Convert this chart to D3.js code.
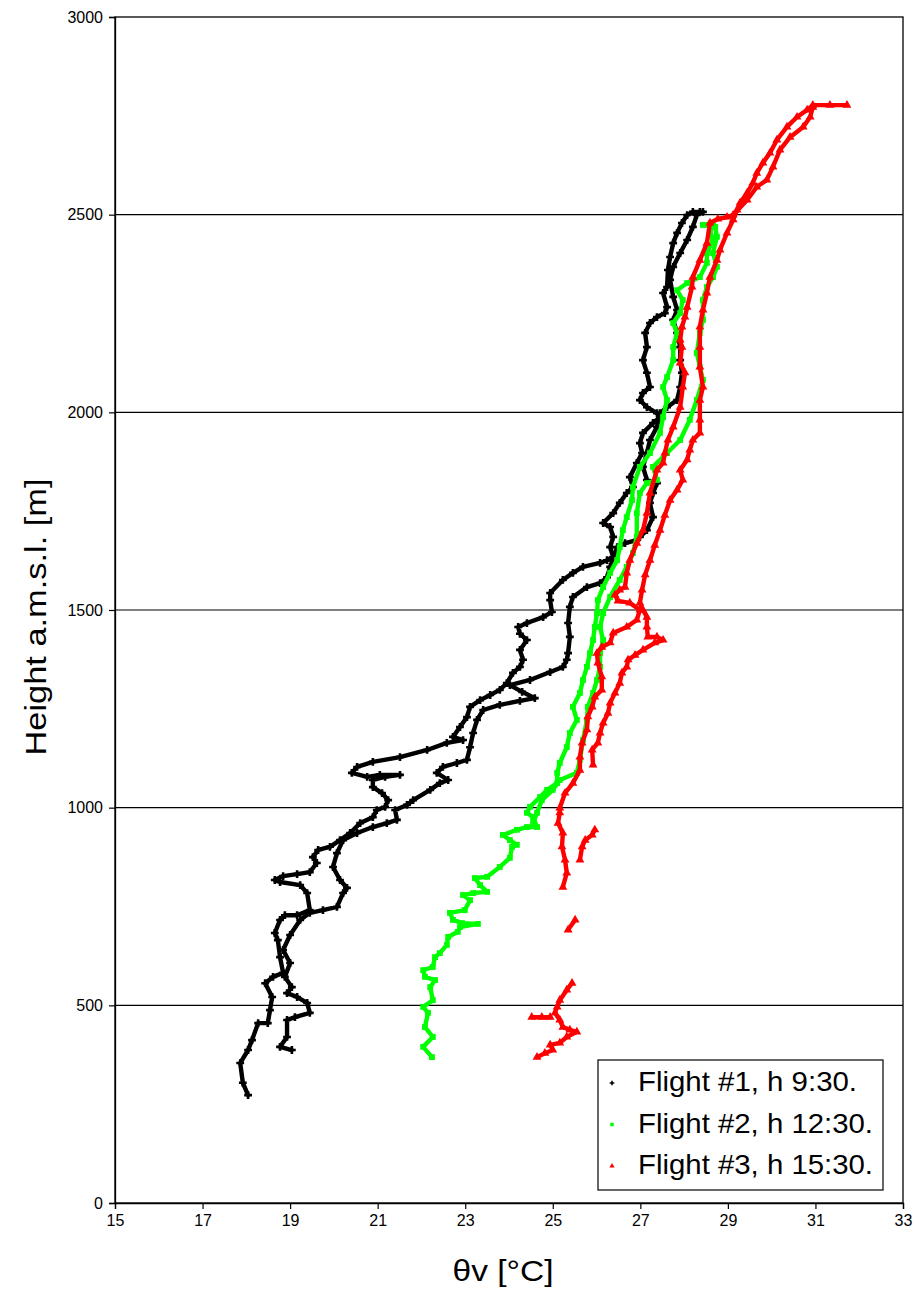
<!DOCTYPE html>
<html>
<head>
<meta charset="utf-8">
<script src="https://cdn.jsdelivr.net/npm/d3@7"></script>
<style>
  html, body { margin: 0; padding: 0; background: #fff; }
  svg { display: block; }
  text { font-family: Arial, "Liberation Sans", sans-serif; fill: #000; }
</style>
</head>
<body>
<svg id="chart" width="922" height="1290"></svg>
<script>
// ---- Data: [theta_v (°C), height a.m.s.l. (m)] ----
const xTicks = [15, 17, 19, 21, 23, 25, 27, 29, 31, 33];
const yTicks = [0, 500, 1000, 1500, 2000, 2500, 3000];
const seriesNames = ["Flight #1, h 9:30.", "Flight #2, h 12:30.", "Flight #3, h 15:30."];
const seriesColors = ["#000000", "#00ff00", "#ff0000"];

const flight1Ascent = [[18.04,273],[17.92,304],[17.86,354],[18.04,387],[18.13,412],[18.27,455],[18.49,455],[18.54,488],[18.59,521],[18.43,556],[18.61,572],[18.84,582],[18.77,622],[18.72,665],[18.65,683],[18.77,716],[18.88,728],[19.16,728],[19.45,741],[19.39,784],[19.23,804],[18.77,812],[18.65,817],[18.84,827],[19.16,832],[19.45,837],[19.61,860],[19.52,875],[19.64,893],[19.91,901],[20.14,918],[20.37,936],[20.60,961],[20.89,976],[20.98,994],[21.17,1002],[21.24,1019],[21.10,1037],[20.89,1052],[20.89,1070],[21.17,1078],[21.51,1083],[21.05,1083],[20.76,1078],[20.41,1088],[20.53,1103],[20.89,1116],[21.51,1128],[22.13,1146],[22.58,1164],[22.95,1171],[22.72,1179],[22.88,1204],[23.04,1229],[23.11,1255],[23.34,1272],[23.57,1285],[23.79,1298],[23.95,1315],[24.09,1341],[24.25,1356],[24.32,1374],[24.25,1399],[24.41,1424],[24.25,1440],[24.21,1457],[24.41,1467],[24.78,1482],[24.98,1495],[24.94,1525],[24.94,1543],[25.23,1576],[25.46,1594],[25.69,1609],[26.08,1619],[26.24,1626],[26.38,1634],[26.31,1659],[26.38,1685],[26.31,1710],[26.15,1720],[26.38,1745],[26.53,1771],[26.69,1796],[26.83,1811],[26.76,1836],[26.92,1872],[27.04,1897],[26.99,1922],[27.06,1948],[27.29,1973],[27.45,1988],[27.38,1998],[27.15,2013],[26.99,2031],[27.06,2049],[27.22,2064],[27.15,2100],[27.06,2132],[27.15,2165],[27.11,2201],[27.22,2226],[27.38,2241],[27.56,2251],[27.61,2266],[27.52,2302],[27.61,2317],[27.63,2360],[27.68,2393],[27.75,2428],[27.84,2454],[27.95,2479],[28.07,2499],[28.20,2507],[28.43,2507]];

const flight1Descent = [[19.04,387],[18.77,395],[18.93,420],[18.93,463],[19.11,470],[19.45,481],[19.39,506],[19.16,521],[18.93,531],[19.04,546],[18.88,572],[19.00,607],[18.84,640],[19.00,678],[19.23,716],[19.45,734],[19.75,741],[20.07,749],[20.21,784],[20.30,797],[20.14,817],[19.98,850],[20.07,885],[20.21,918],[20.53,936],[20.89,951],[21.21,961],[21.44,969],[21.40,994],[21.67,1007],[21.81,1019],[22.20,1045],[22.42,1062],[22.61,1070],[22.35,1088],[22.49,1103],[22.81,1113],[23.04,1121],[23.11,1153],[23.18,1189],[23.27,1222],[23.41,1247],[23.79,1260],[24.25,1270],[24.59,1277],[24.30,1293],[24.02,1310],[24.48,1323],[24.94,1343],[25.23,1356],[25.32,1374],[25.35,1391],[25.39,1432],[25.35,1467],[25.39,1508],[25.46,1533],[25.78,1558],[26.08,1568],[26.24,1583],[26.31,1609],[26.47,1659],[26.65,1669],[26.92,1677],[26.99,1685],[27.15,1702],[27.29,1735],[27.22,1771],[27.29,1796],[27.38,1821],[27.15,1829],[27.06,1862],[27.15,1897],[27.22,1930],[27.38,1963],[27.45,1998],[27.61,2013],[27.84,2031],[27.91,2064],[27.95,2100],[27.91,2132],[27.91,2165],[27.84,2201],[27.75,2234],[27.84,2259],[27.75,2292],[27.68,2335],[27.75,2368],[27.91,2403],[28.07,2436],[28.20,2469],[28.29,2499],[28.36,2507]];

const flight2Ascent = [[22.24,369],[22.04,395],[22.26,420],[22.08,445],[22.15,481],[22.04,496],[22.26,513],[22.20,546],[22.31,564],[22.08,572],[22.04,589],[22.26,597],[22.31,622],[22.42,632],[22.58,653],[22.61,673],[22.83,686],[22.88,698],[23.29,706],[22.93,708],[22.72,716],[22.65,734],[22.99,741],[23.11,766],[22.95,779],[23.18,784],[23.50,787],[23.34,804],[23.22,822],[23.50,825],[23.79,850],[24.02,873],[24.07,901],[24.18,906],[24.02,918],[23.86,931],[24.18,944],[24.41,951],[24.64,951],[24.55,976],[24.41,987],[24.48,1002],[24.71,1027],[24.87,1045],[25.10,1062],[25.10,1088],[25.16,1113],[25.32,1153],[25.39,1189],[25.55,1222],[25.46,1255],[25.62,1290],[25.69,1323],[25.78,1356],[25.85,1391],[25.92,1424],[25.96,1457],[26.01,1492],[26.03,1525],[26.15,1558],[26.31,1594],[26.47,1626],[26.53,1659],[26.60,1702],[26.69,1735],[26.81,1778],[26.83,1811],[26.99,1862],[27.22,1897],[27.45,1948],[27.52,1988],[27.61,2031],[27.52,2064],[27.61,2089],[27.75,2132],[27.75,2165],[27.84,2201],[27.75,2226],[27.91,2251],[27.97,2284],[27.84,2309],[28.07,2327],[28.36,2342],[28.52,2378],[28.52,2403],[28.66,2436],[28.59,2461],[28.66,2479],[28.43,2474]];

const flight2Descent = [[24.55,961],[24.64,987],[24.75,1019],[25.00,1045],[25.16,1070],[25.55,1088],[25.62,1121],[25.69,1171],[25.78,1222],[25.80,1255],[25.92,1290],[26.01,1323],[26.08,1356],[26.08,1391],[26.15,1424],[26.08,1457],[26.15,1492],[26.31,1533],[26.53,1576],[26.69,1609],[26.83,1644],[26.92,1685],[26.92,1745],[26.99,1796],[27.15,1821],[27.38,1829],[27.29,1862],[27.61,1897],[27.91,1930],[28.13,1981],[28.29,2031],[28.43,2082],[28.36,2115],[28.29,2150],[28.36,2201],[28.43,2234],[28.43,2284],[28.52,2317],[28.66,2342],[28.75,2368],[28.66,2403],[28.75,2444],[28.71,2469],[28.50,2474]];

const flight3Low = [[24.64,369],[24.82,379],[25.00,387],[24.94,400],[25.16,405],[25.32,420],[25.55,433],[25.39,438],[25.23,445],[25.16,463],[25.05,481],[25.10,496],[25.16,513],[25.32,539],[25.44,556]];
const flight3LowSpike = [[24.52,470],[24.75,470],[24.94,470]];
const flight3Piece = [[25.35,691],[25.51,716]];
const flight3Piece2 = [[25.62,868],[25.67,901],[25.74,918],[25.90,931],[25.96,944]];

const flight3Ascent = [[25.23,799],[25.32,835],[25.28,868],[25.21,901],[25.23,936],[25.12,961],[25.16,987],[25.16,999],[25.28,1037],[25.46,1062],[25.62,1095],[25.62,1128],[25.67,1164],[25.78,1197],[25.80,1230],[25.90,1255],[25.96,1280],[26.12,1298],[26.12,1331],[26.03,1366],[26.01,1391],[26.12,1406],[26.31,1417],[26.38,1442],[26.69,1457],[26.92,1475],[26.99,1500],[26.76,1518],[26.49,1523],[26.42,1538],[26.53,1551],[26.65,1558],[26.69,1594],[26.76,1626],[26.92,1669],[27.06,1702],[27.15,1745],[27.22,1796],[27.38,1854],[27.52,1872],[27.56,1897],[27.63,1930],[27.75,1963],[27.91,2013],[27.97,2064],[28.02,2100],[27.91,2125],[27.95,2165],[27.91,2183],[27.95,2216],[28.02,2241],[28.07,2266],[28.18,2317],[28.20,2342],[28.36,2385],[28.52,2428],[28.59,2479],[28.77,2489],[28.98,2494],[29.12,2499],[29.44,2537],[29.66,2570],[29.89,2588],[30.03,2621],[30.19,2664],[30.42,2696],[30.72,2722],[30.88,2747],[30.94,2772]];

const flight3Descent = [[25.92,1108],[25.90,1146],[26.03,1164],[26.08,1189],[26.15,1214],[26.26,1239],[26.31,1265],[26.42,1290],[26.53,1315],[26.58,1341],[26.69,1356],[26.72,1374],[26.88,1386],[27.06,1399],[27.33,1417],[27.52,1424],[27.38,1432],[27.17,1432],[27.15,1457],[27.15,1482],[27.06,1500],[26.99,1518],[27.04,1551],[27.11,1589],[27.22,1626],[27.33,1664],[27.45,1702],[27.56,1740],[27.68,1778],[27.84,1804],[27.97,1829],[27.91,1854],[28.07,1880],[28.13,1905],[28.20,1930],[28.36,1948],[28.36,1981],[28.36,2031],[28.43,2064],[28.36,2115],[28.36,2165],[28.36,2216],[28.43,2259],[28.52,2302],[28.59,2342],[28.75,2385],[28.82,2411],[28.98,2454],[29.12,2487],[29.21,2512],[29.28,2530],[29.44,2555],[29.57,2580],[29.66,2605],[29.80,2631],[29.96,2656],[30.12,2689],[30.35,2722],[30.58,2747],[30.81,2765],[30.94,2777],[31.33,2777],[31.72,2777]];

// ---- Layout ----
const svg = d3.select("#chart");
const pLeft = 115, pRight = 903, pTop = 17, pBottom = 1203;

const x = d3.scaleLinear().domain([15, 33]).range([pLeft, pRight]);
const y = d3.scaleLinear().domain([0, 3000]).range([pBottom, pTop]);

// gridlines
svg.append("g").selectAll("line")
  .data(yTicks.filter(d => d > 0 && d < 3000))
  .join("line")
  .attr("x1", pLeft).attr("x2", pRight)
  .attr("y1", d => y(d)).attr("y2", d => y(d))
  .attr("stroke", "#000").attr("stroke-width", 1.2);

// frame
svg.append("rect")
  .attr("x", pLeft).attr("y", pTop)
  .attr("width", pRight - pLeft).attr("height", pBottom - pTop)
  .attr("fill", "none").attr("stroke", "#000").attr("stroke-width", 1.3);

// axes
const xAxis = d3.axisBottom(x).tickValues(xTicks).tickSize(6).tickPadding(6).tickFormat(d3.format("d"));
const yAxis = d3.axisLeft(y).tickValues(yTicks).tickSize(6).tickPadding(6).tickFormat(d3.format("d"));

const gx = svg.append("g").attr("transform", `translate(0,${pBottom})`).call(xAxis);
const gy = svg.append("g").attr("transform", `translate(${pLeft},0)`).call(yAxis);
[gx, gy].forEach(g => {
  g.select(".domain").attr("stroke", "#000").attr("stroke-width", 1.3);
  g.selectAll(".tick line").attr("stroke", "#000").attr("stroke-width", 1.2);
  g.selectAll(".tick text").attr("font-size", 16).attr("font-family", "Arial, 'Liberation Sans', sans-serif").attr("fill", "#000");
});

// axis titles
svg.append("text")
  .attr("x", 503).attr("y", 1281)
  .attr("text-anchor", "middle").attr("font-size", 30)
  .attr("textLength", 101).attr("lengthAdjust", "spacingAndGlyphs")
  .text("θv [°C]");
svg.append("text")
  .attr("transform", `translate(46,617) rotate(-90)`)
  .attr("text-anchor", "middle").attr("font-size", 30)
  .attr("textLength", 277).attr("lengthAdjust", "spacingAndGlyphs")
  .text("Height a.m.s.l. [m]");

// traces
const line = d3.line().x(d => x(d[0])).y(d => y(d[1]));
const traces = [
  { data: flight1Ascent, c: 0 }, { data: flight1Descent, c: 0 },
  { data: flight2Ascent, c: 1 }, { data: flight2Descent, c: 1 },
  { data: flight3Low, c: 2 }, { data: flight3LowSpike, c: 2 }, { data: flight3Piece, c: 2 },
  { data: flight3Piece2, c: 2 }, { data: flight3Ascent, c: 2 }, { data: flight3Descent, c: 2 }
];
const symbolTypes = [d3.symbolCross, d3.symbolSquare, d3.symbolTriangle];

const gTr = svg.append("g");
traces.forEach(t => {
  gTr.append("path")
    .attr("d", line(t.data))
    .attr("fill", "none")
    .attr("stroke", seriesColors[t.c])
    .attr("stroke-width", 4.4)
    .attr("stroke-linejoin", "round")
    .attr("stroke-linecap", "round");
  gTr.append("g").selectAll("path")
    .data(t.data)
    .join("path")
    .attr("transform", d => `translate(${x(d[0])},${y(d[1])})`)
    .attr("d", d3.symbol().type(symbolTypes[t.c]).size(34))
    .attr("fill", seriesColors[t.c]);
});

// legend
const legendWidths = [219, 235, 235];
const lg = svg.append("g");
lg.append("rect")
  .attr("x", 598).attr("y", 1060).attr("width", 285).attr("height", 130)
  .attr("fill", "#fff").attr("stroke", "#000").attr("stroke-width", 1.2);
seriesNames.forEach((name, i) => {
  const cy = 1081 + i * 41.5;
  lg.append("path")
    .attr("transform", `translate(612,${cy + 2})`)
    .attr("d", d3.symbol().type(symbolTypes[i]).size(12))
    .attr("fill", seriesColors[i]);
  lg.append("text")
    .attr("x", 638).attr("y", cy + 10)
    .attr("font-size", 28)
    .attr("textLength", legendWidths[i]).attr("lengthAdjust", "spacingAndGlyphs")
    .text(name);
});
</script>
</body>
</html>
